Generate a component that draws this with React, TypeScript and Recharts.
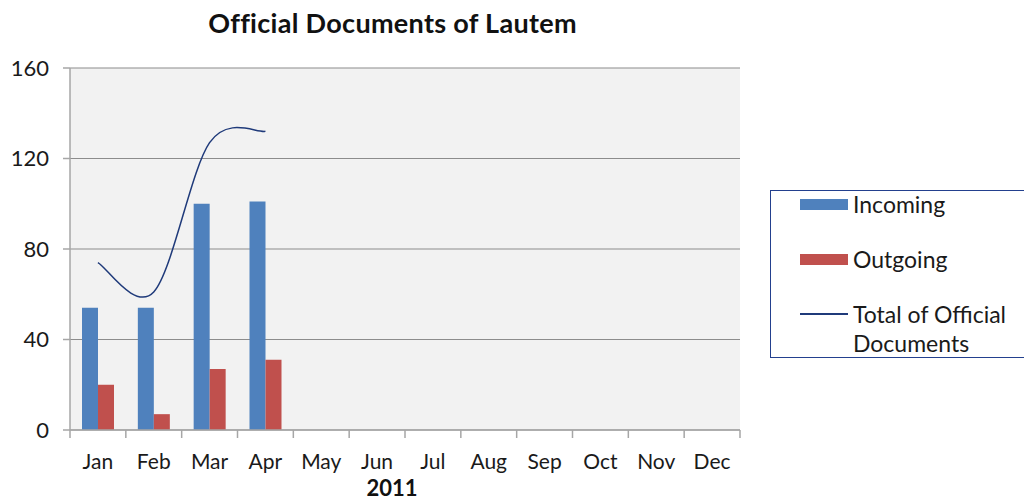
import { ComposedChart, Bar, Line, XAxis, YAxis, CartesianGrid, Legend } from "recharts";

const months = ["Jan", "Feb", "Mar", "Apr", "May", "Jun", "Jul", "Aug", "Sep", "Oct", "Nov", "Dec"];
const incoming = [54, 54, 100, 101];
const outgoing = [20, 7, 27, 31];
const totalDocs = [74, 61, 127, 132];
const yTicks = [0, 40, 80, 120, 160];

const data = months.map((month, i) => ({
  month,
  incoming: incoming[i] ?? null,
  outgoing: outgoing[i] ?? null,
  total: totalDocs[i] ?? null,
}));

// Excel-like smoothed line (Catmull-Rom drawn as beziers)
const excelSmooth = (context: any) => {
  let pts: number[][] = [];
  return {
    areaStart() {},
    areaEnd() {},
    lineStart() {
      pts = [];
    },
    point(x: number, y: number) {
      pts.push([+x, +y]);
    },
    lineEnd() {
      if (!pts.length) return;
      context.moveTo(pts[0][0], pts[0][1]);
      for (let i = 0; i < pts.length - 1; i++) {
        const p0 = pts[i - 1] || pts[i];
        const p1 = pts[i];
        const p2 = pts[i + 1];
        const p3 = pts[i + 2] || p2;
        context.bezierCurveTo(
          p1[0] + (p2[0] - p0[0]) / 6,
          p1[1] + (p2[1] - p0[1]) / 6,
          p2[0] - (p3[0] - p1[0]) / 6,
          p2[1] - (p3[1] - p1[1]) / 6,
          p2[0],
          p2[1]
        );
      }
    },
  };
};

const labels: Record<string, string[]> = {
  incoming: ["Incoming"],
  outgoing: ["Outgoing"],
  total: ["Total of Official", "Documents"],
};

function LegendBox({ payload }: any) {
  const order = ["incoming", "outgoing", "total"];
  const items = order
    .map((k) => (payload || []).find((p: any) => p.dataKey === k))
    .filter(Boolean);
  return (
    <div style={{ position: "relative", width: "100%", height: "100%", fontFamily: "Lato", fontSize: 23, color: "#1a1a1a" }}>
      {items.map((item: any, i: number) => (
        <div key={item.dataKey} style={{ position: "absolute", left: 29, top: 0 + i * 55, display: "flex", alignItems: "flex-start" }}>
          <div style={{ width: 48, height: 26, display: "flex", alignItems: "center" }}>
            {item.dataKey === "total" ? (
              <div style={{ width: 48, height: 1.5, background: item.color }} />
            ) : (
              <div style={{ width: 48, height: 11, background: item.color }} />
            )}
          </div>
          <div style={{ marginLeft: 5, lineHeight: "29px", marginTop: -1 }}>
            {labels[item.dataKey].map((t) => (
              <div key={t}>{t}</div>
            ))}
          </div>
        </div>
      ))}
    </div>
  );
}

// month label plus Excel-style tick marks on the category edges
function MonthTick({ x, y, payload, index, visibleTicksCount }: any) {
  const half = payload.offset || 0;
  const last = index === (visibleTicksCount ?? months.length) - 1;
  return (
    <g>
      <line x1={x - half} x2={x - half} y1={y} y2={y + 8} stroke="#a6a6a6" strokeWidth={1.5} />
      {last && <line x1={x + half} x2={x + half} y1={y} y2={y + 8} stroke="#a6a6a6" strokeWidth={1.5} />}
      <text x={x} y={y + 39} textAnchor="middle" fill="#1a1a1a" fontSize={21}>
        {payload.value}
      </text>
    </g>
  );
}

export default function App() {
  return (
    <div style={{ position: "absolute", left: 0, top: 0, width: 1024, height: 500, background: "#fff" }}>
      <div
        style={{
          position: "absolute",
          left: 0,
          width: 785,
          top: 6,
          textAlign: "center",
          fontFamily: "Lato",
          fontWeight: 700,
          fontSize: 27,
          letterSpacing: 0.3,
          color: "#111",
        }}
      >
        Official Documents of Lautem
      </div>
      <ComposedChart
        width={1024}
        height={500}
        data={data}
        margin={{ top: 68, right: 284, bottom: 0, left: 0 }}
        barGap={0}
        style={{ fontFamily: "Lato" }}
      >
        <CartesianGrid vertical={false} stroke="#8c8c8c" strokeWidth={1.2} fill="#f2f2f2" />
        <XAxis
          dataKey="month"
          height={70}
          stroke="#a6a6a6"
          strokeWidth={1.5}
          tickLine={false}
          tickSize={0}
          tickMargin={0}
          interval={0}
          tick={<MonthTick />}
          label={{ value: "2011", position: "insideBottom", offset: 4, dx: -13, fill: "#111", fontSize: 22, fontWeight: 700 }}
        />
        <YAxis
          width={70}
          domain={[0, 160]}
          ticks={yTicks}
          tickSize={7}
          tickMargin={14}
          stroke="#a6a6a6"
          strokeWidth={1.5}
          tick={{ fill: "#1a1a1a", fontSize: 22 }}
        />
        <Legend
          layout="horizontal"
          verticalAlign="middle"
          align="center"
          content={<LegendBox />}
          wrapperStyle={{ left: 770, top: 190, width: 270, height: 168, border: "1.5px solid #23408e", boxSizing: "border-box", background: "#fff" }}
        />
        <Bar dataKey="incoming" name="Incoming" fill="#4f81bd" barSize={16} isAnimationActive={false} />
        <Bar dataKey="outgoing" name="Outgoing" fill="#c0504d" barSize={16} isAnimationActive={false} />
        <Line
          dataKey="total"
          name="Total of Official Documents"
          type={excelSmooth as any}
          stroke="#1f3a7a"
          strokeWidth={1.5}
          dot={false}
          activeDot={false}
          isAnimationActive={false}
        />
      </ComposedChart>
    </div>
  );
}
